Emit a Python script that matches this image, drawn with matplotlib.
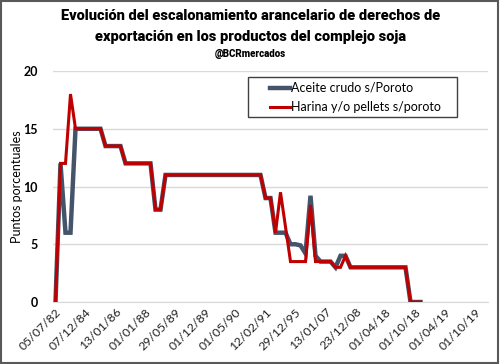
import numpy as np
import matplotlib.pyplot as plt
from matplotlib.patches import Rectangle

# etiquetas del eje de categorias (una cada 6 categorias)
tick_labels = ["05/07/82", "07/12/84", "13/01/86", "01/01/88", "29/05/89",
               "01/12/89", "01/05/90", "12/02/91", "29/12/95", "13/01/07",
               "23/12/08", "01/04/18", "01/10/18", "01/04/19", "01/10/19"]
n_categories = 87
label_every = 6

# Aceite crudo s/Poroto
aceite = ([0, 12, 6, 6, 15] + [15] * 5 + [13.5] * 4 + [12] * 6 + [8] * 2
          + [11] * 20 + [9] * 2 + [6, 6, 6, 5, 5, 4.9, 4.2, 9.2, 4.0]
          + [3.5] * 3 + [3, 4, 4] + [3] * 12 + [0] * 3)
# Harina y/o pellets s/poroto
harina = ([0, 12, 12, 18, 15] + [15] * 5 + [13.5] * 4 + [12] * 6 + [8] * 2
          + [11] * 20 + [9] * 2 + [6, 9.5, 6.5, 3.5, 3.5, 3.5, 3.5, 8.4, 3.5]
          + [3.5] * 3 + [3, 3, 4] + [3] * 12 + [0] * 3)

plt.rcParams['font.family'] = ['Lato', 'DejaVu Sans']

fig = plt.figure(figsize=(5.01, 3.64), dpi=100)
ax = fig.add_axes([53 / 501, 1 - 302 / 364, 435 / 501, 231 / 364])

x = np.arange(len(aceite))
ax.plot(x, aceite, color="#44546A", lw=3.2, solid_joinstyle="miter",
        label="Aceite crudo s/Poroto", zorder=3)
ax.plot(x, harina, color="#C00000", lw=2.2, solid_joinstyle="miter",
        label="Harina y/o pellets s/poroto", zorder=4)

ax.set_xlim(-0.5, n_categories - 0.5)
ax.set_ylim(0, 20)
ax.set_yticks([0, 5, 10, 15, 20])
ax.set_xticks(np.arange(len(tick_labels)) * label_every)
ax.set_xticklabels(tick_labels, rotation=45, ha="right", va="top",
                   rotation_mode="anchor", fontsize=8.8, color="#222222")
for t in ax.get_yticklabels():
    t.set_fontweight("bold")
ax.tick_params(axis="y", length=0, pad=11, labelsize=9)
ax.tick_params(axis="x", length=0, pad=3)
ax.yaxis.grid(True, color="#D9D9D9", lw=1)
ax.set_axisbelow(True)
for s in ["top", "right", "left"]:
    ax.spines[s].set_visible(False)
ax.spines["bottom"].set_color("#D9D9D9")
ax.set_ylabel("Puntos porcentuales", fontsize=9)
ax.yaxis.set_label_coords(-0.068, 0.5)

# leyenda con caja fija
fig.patches.append(Rectangle((248 / 501, 1 - 117 / 364), 209 / 501, 40 / 364,
                             transform=fig.transFigure, fill=False,
                             edgecolor="#404040", lw=1, zorder=5))
fig.legend(loc="upper left", bbox_to_anchor=(265 / 501, 1 - 77 / 364),
           frameon=False, fontsize=9, handlelength=1.6, handletextpad=0.05,
           labelspacing=0.55, borderaxespad=0)

tfont = ['Roboto', 'DejaVu Sans']
fig.text(0.5, 1 - 16 / 364, "Evolución del escalonamiento arancelario de derechos de",
         ha="center", va="center", fontsize=10.5, fontweight="heavy",
         fontstretch="condensed", family=tfont)
fig.text(0.5, 1 - 37 / 364, "exportación en los productos del complejo soja",
         ha="center", va="center", fontsize=10.5, fontweight="heavy",
         fontstretch="condensed", family=tfont)
fig.text(0.5, 1 - 54 / 364, "@BCRmercados", ha="center", va="center",
         fontsize=7, fontweight="heavy", fontstretch="condensed", family=tfont)

# borde del grafico
fig.patches.append(Rectangle((0.002, 0.003), 0.993, 0.994, transform=fig.transFigure,
                             fill=False, edgecolor="#595959", lw=1.5))

fig.savefig("out.png", dpi=100)
